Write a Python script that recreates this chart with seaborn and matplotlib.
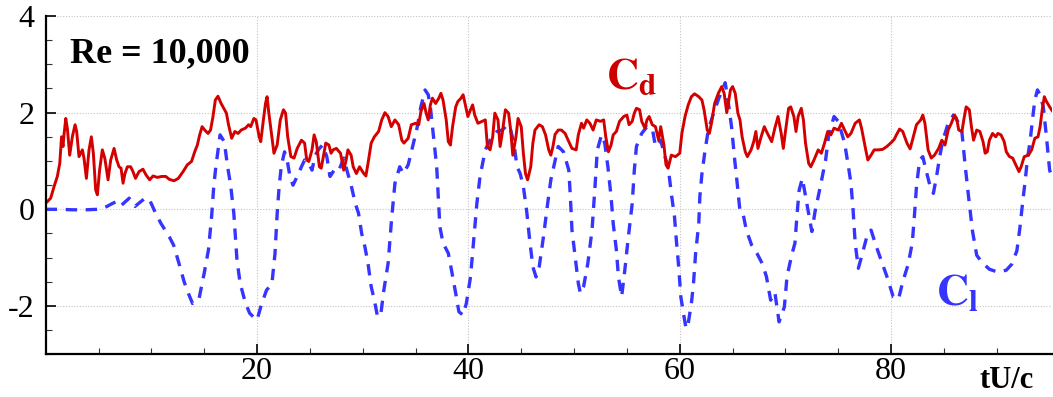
import numpy as np
import pandas as pd
import matplotlib
matplotlib.use('Agg')
import matplotlib.pyplot as plt
import seaborn as sns

# drag coefficient Cd (tU/c, value)
cd_t = [0.0, 0.16, 0.47, 0.79, 1.1, 1.33, 1.5, 1.64, 1.73, 1.9, 2.05, 2.27, 2.52, 2.78, 2.93, 3.15, 3.31,
        3.47, 3.63, 3.85, 4.1, 4.32, 4.51, 4.73, 4.89, 5.1, 5.36, 5.6, 5.9, 6.15, 6.47, 6.72, 6.94, 7.13,
        7.32, 7.5, 7.73, 8.04, 8.26, 8.5, 8.83, 9.2, 9.5, 9.84, 10.16, 10.57, 10.98, 11.36, 11.7, 12.14,
        12.55, 13.0, 13.4, 13.8, 14.1, 14.35, 14.57, 14.8, 15.05, 15.36, 15.6, 15.83, 16.05, 16.3, 16.6,
        17.1, 17.3, 17.6, 17.9, 18.2, 18.5, 18.9, 19.2, 19.4, 19.7, 19.9, 20.2, 20.35, 20.6, 20.8, 20.95,
        21.1, 21.4, 21.6, 21.9, 22.2, 22.5, 22.7, 22.9, 23.2, 23.5, 23.8, 24.2, 24.5, 24.7, 24.9, 25.2,
        25.4, 25.6, 25.9, 26.07, 26.3, 26.5, 26.8, 27.0, 27.2, 27.5, 27.9, 28.2, 28.4, 28.6, 28.9, 29.1,
        29.4, 29.7, 30.1, 30.3, 30.5, 30.8, 31.1, 31.5, 31.8, 32.1, 32.4, 32.7, 33.05, 33.4, 33.7, 33.9,
        34.3, 34.6, 35.0, 35.3, 35.5, 35.8, 36.0, 36.2, 36.4, 36.6, 36.9, 37.2, 37.4, 37.6, 37.9, 38.1,
        38.3, 38.5, 38.8, 39.0, 39.3, 39.5, 39.75, 39.95, 40.2, 40.4, 40.6, 40.9, 41.3, 41.6, 41.8, 42.05,
        42.3, 42.5, 42.8, 43.0, 43.2, 43.5, 43.8, 44.0, 44.2, 44.5, 44.7, 45.0, 45.2, 45.4, 45.6, 45.9,
        46.1, 46.3, 46.7, 47.0, 47.3, 47.6, 47.8, 48.0, 48.2, 48.5, 48.8, 49.15, 49.5, 49.8, 50.2, 50.4,
        50.7, 50.9, 51.2, 51.5, 51.8, 52.1, 52.5, 52.8, 53.0, 53.25, 53.5, 53.7, 54.0, 54.3, 54.7, 55.0,
        55.2, 55.5, 55.7, 55.9, 56.2, 56.4, 56.7, 56.9, 57.1, 57.4, 57.7, 58.0, 58.2, 58.5, 58.7, 58.9,
        59.2, 59.6, 60.0, 60.2, 60.5, 60.8, 61.1, 61.4, 61.8, 62.1, 62.3, 62.6, 62.8, 63.0, 63.3, 63.65,
        63.97, 64.2, 64.45, 64.8, 65.0, 65.25, 65.5, 65.7, 65.9, 66.2, 66.4, 66.75, 67.0, 67.2, 67.4,
        67.7, 68.0, 68.3, 68.7, 69.0, 69.3, 69.6, 69.8, 70.0, 70.3, 70.5, 70.8, 71.0, 71.2, 71.5, 71.7,
        71.9, 72.2, 72.4, 72.7, 73.1, 73.4, 73.7, 74.0, 74.3, 74.6, 75.0, 75.3, 75.6, 75.9, 76.2, 76.6,
        77.0, 77.2, 77.6, 77.8, 78.1, 78.4, 78.8, 79.2, 79.6, 80.0, 80.3, 80.5, 80.8, 81.1, 81.5, 81.8,
        82.1, 82.4, 82.8, 83.0, 83.2, 83.5, 83.8, 84.1, 84.5, 84.8, 85.1, 85.4, 85.7, 86.0, 86.2, 86.4,
        86.7, 86.9, 87.1, 87.4, 87.6, 87.8, 88.1, 88.4, 88.7, 88.9, 89.1, 89.3, 89.6, 89.9, 90.1, 90.4,
        90.7, 90.9, 91.2, 91.5, 91.8, 92.1, 92.3, 92.6, 93.0, 93.3, 93.6, 93.9, 94.1, 94.3, 94.5, 94.7,
        95.0, 95.3]
cd_val = [0.13, 0.16, 0.23, 0.47, 0.68, 0.95, 1.5, 1.3, 1.54, 1.88, 1.67, 1.12, 1.5, 1.75, 1.61, 1.09, 1.16,
          1.23, 1.05, 0.64, 1.23, 1.5, 1.16, 0.40, 0.30, 0.81, 1.23, 1.05, 0.61, 1.02, 1.26, 1.02, 0.88, 0.85,
          0.54, 0.74, 0.88, 0.88, 0.78, 0.64, 0.78, 0.83, 0.71, 0.61, 0.69, 0.66, 0.68, 0.68, 0.62, 0.59,
          0.64, 0.78, 0.92, 0.99, 1.19, 1.33, 1.54, 1.71, 1.64, 1.57, 1.64, 1.92, 2.26, 2.34, 2.19,
          1.99, 1.75, 1.47, 1.61, 1.57, 1.64, 1.68, 1.75, 1.71, 1.88, 1.85, 1.5, 1.40, 1.85, 2.19, 2.33,
          2.02, 1.5, 1.16, 1.33, 1.85, 2.06, 1.99, 1.5, 1.09, 1.06, 1.26, 1.43, 1.37, 1.02, 0.99, 1.23,
          1.54, 1.40, 0.88, 0.85, 1.12, 1.37, 1.33, 1.16, 1.23, 1.26, 1.16, 0.81, 0.99, 1.23, 1.12, 0.88,
          0.74, 0.88, 0.74, 0.69, 0.95, 1.37, 1.50, 1.61, 1.85, 2.0, 1.92, 1.71, 1.85, 1.75, 1.43, 1.37,
          1.47, 1.75, 1.78, 1.75, 2.02, 2.19, 1.99, 1.85, 2.16, 2.30, 2.19, 2.30, 2.40, 2.26, 1.85, 1.40,
          1.33, 1.71, 2.12, 2.23, 2.30, 2.37, 2.12, 1.92, 2.06, 2.16, 1.95, 1.78, 1.82, 1.85, 1.30, 1.23,
          1.50, 1.99, 1.85, 1.30, 1.57, 2.06, 1.99, 1.64, 1.12, 1.50, 1.88, 1.71, 1.16, 0.74, 0.61, 0.88,
          1.37, 1.64, 1.75, 1.71, 1.54, 1.23, 1.12, 1.30, 1.55, 1.64, 1.64, 1.57, 1.40, 1.26, 1.23, 1.54,
          1.78, 1.68, 1.85, 1.78, 1.64, 1.85, 1.82, 1.85, 1.50, 1.19, 1.33, 1.54, 1.61, 1.82, 1.92, 1.95,
          1.75, 1.82, 1.99, 2.09, 2.06, 1.82, 1.68, 1.85, 1.92, 1.75, 1.71, 1.43, 1.71, 1.33, 0.92, 0.85,
          1.12, 1.09, 1.16, 1.57, 1.92, 2.16, 2.33, 2.39, 2.33, 2.26, 2.06, 1.64, 1.57, 1.78, 2.19, 2.40,
          2.54, 2.40, 2.00, 2.47, 2.54, 2.40, 1.99, 1.85, 1.50, 1.19, 1.09, 1.23, 1.40, 1.61, 1.26,
          1.50, 1.71, 1.57, 1.40, 1.68, 1.92, 1.57, 1.26, 1.61, 2.09, 2.12, 1.92, 1.61, 1.92, 2.09, 1.85,
          1.37, 0.95, 0.88, 1.02, 1.23, 1.16, 1.37, 1.61, 1.54, 1.68, 1.64, 1.78, 1.64, 1.50, 1.57, 1.78,
          1.85, 1.68, 1.23, 1.02, 1.12, 1.23, 1.23, 1.24, 1.30, 1.38, 1.45, 1.54, 1.66, 1.61, 1.37, 1.25,
          1.50, 1.75, 1.85, 1.95, 1.78, 1.23, 1.06, 1.12, 1.26, 1.43, 1.33, 1.64, 1.78, 1.95, 1.88, 1.64,
          1.61, 1.88, 2.12, 2.06, 1.71, 1.43, 1.64, 1.61, 1.40, 1.16, 1.19, 1.43, 1.57, 1.50, 1.57, 1.54,
          1.40, 1.19, 1.09, 1.06, 0.92, 0.78, 0.88, 1.09, 1.12, 1.23, 1.47, 1.50, 1.71, 2.06, 2.33, 2.23,
          2.12, 2.02]

# lift coefficient Cl (tU/c, value)
cl_t = [0.0, 1.3, 2.5, 3.8, 4.9, 5.4, 5.8, 6.3, 6.7, 7.1, 7.9, 8.45, 9.4, 9.8, 10.4, 10.9, 11.7, 12.1,
        12.6, 13.1, 13.5, 13.9, 14.5, 15.0, 15.4, 15.7, 15.9, 16.1, 16.5, 16.9, 17.2, 17.5, 17.8, 18.1,
        18.4, 18.9, 19.3, 19.8, 20.0, 20.4, 20.9, 21.4, 21.7, 21.9, 22.1, 22.3, 22.6, 22.9, 23.1, 23.4,
        23.8, 24.2, 24.5, 24.9, 25.2, 25.5, 25.9, 26.2, 26.6, 26.9, 27.3, 27.7, 28.2, 28.5, 28.9, 29.3,
        29.6, 29.9, 30.2, 30.5, 30.8, 31.1, 31.4, 31.7, 32.0, 32.4, 32.75, 33.05, 33.5, 33.85, 34.3,
        34.8, 35.1, 35.5, 35.9, 36.2, 36.4, 36.7, 37.0, 37.15, 37.3, 37.6, 38.1, 38.4, 38.8, 39.1, 39.5,
        39.8, 40.2, 40.5, 40.8, 41.1, 41.6, 42.05, 42.7, 43.2, 43.7, 44.0, 44.3, 44.6, 44.9, 45.2, 45.5,
        45.8, 46.1, 46.4, 46.7, 47.1, 47.5, 47.8, 48.2, 48.5, 49.0, 49.5, 49.65, 49.8, 50.1, 50.4, 50.6,
        50.9, 51.3, 51.7, 52.0, 52.2, 52.6, 52.9, 53.2, 53.5, 53.7, 54.0, 54.2, 54.5, 54.8, 55.1, 55.5,
        55.7, 55.9, 56.4, 56.9, 57.4, 57.7, 58.2, 58.6, 58.9, 59.2, 59.5, 59.7, 59.9, 60.1, 60.4, 60.6,
        60.8, 61.1, 61.3, 61.5, 61.8, 61.9, 62.1, 62.4, 62.7, 63.2, 63.7, 64.1, 64.3, 64.6, 64.9, 65.2,
        65.5, 65.7, 66.0, 66.3, 66.8, 67.3, 67.8, 68.2, 68.6, 69.0, 69.4, 69.9, 70.15, 70.6, 70.9, 71.1,
        71.3, 71.6, 72.0, 72.5, 72.8, 73.3, 73.8, 74.1, 74.6, 75.0, 75.6, 75.95, 76.2, 76.4, 76.6, 76.9,
        77.2, 77.7, 78.1, 78.6, 79.1, 79.6, 80.2, 80.7, 81.1, 81.6, 82.0, 82.2, 82.4, 82.7, 83.0, 83.3,
        83.7, 84.0, 84.3, 84.6, 84.9, 85.4, 85.9, 86.3, 86.7, 87.0, 87.35, 87.7, 88.1, 88.6, 89.3, 90.1,
        90.9, 91.4, 91.9, 92.2, 92.45, 92.7, 92.9, 93.15, 93.4, 93.6, 93.85, 94.1, 94.4, 94.7, 95.0, 95.2]
cl_val = [0.0, 0.0, -0.01, -0.01, 0.0, 0.02, 0.06, 0.12, 0.16, 0.07, 0.23, 0.06, 0.23, 0.21, -0.08, -0.29,
          -0.57, -0.74, -1.11, -1.50, -1.74, -1.95, -1.86, -1.32, -0.84, -0.15, 0.47, 0.88, 1.54, 1.40,
          0.90, 0.5, -0.08, -1.05, -1.53, -1.94, -2.15, -2.26, -2.29, -1.98, -1.67, -1.55, -0.91, -0.1,
          0.5, 0.9, 1.19, 0.95, 0.70, 0.50, 0.68, 0.88, 1.02, 0.95, 0.81, 1.12, 1.26, 1.33, 1.09, 0.68,
          0.81, 0.78, 1.06, 0.81, 0.50, 0.12, -0.08, -0.50, -0.77, -1.12, -1.60, -1.88, -2.22, -2.19,
          -1.67, -1.12, -0.15, 0.54, 0.88, 0.74, 0.92, 1.37, 1.64, 2.12, 2.47, 2.37, 2.12, 1.50, 0.88,
          0.26, -0.36, -0.70, -0.91, -1.26, -1.74, -2.12, -2.19, -1.95, -1.40, -0.64, 0.12, 0.68, 1.23,
          1.43, 1.61, 1.64, 1.75, 1.64, 1.37, 0.88, 0.74, 0.47, -0.01, -0.64, -1.19, -1.40, -1.19, -0.57,
          0.12, 0.61, 1.0, 1.30, 1.19, 0.81, 0.26, -0.43, -0.98, -1.53, -1.74, -1.60, -1.12, -0.43, 0.54,
          1.23, 1.54, 1.37, 0.88, 0.26, -0.29, -0.84, -1.40, -1.81, -1.26, -0.64, 0.12, 0.81, 1.30, 1.57,
          1.71, 1.68, 1.30, 1.43, 1.09, 0.88, 0.33, -0.15, -0.70, -1.19, -1.81, -2.22, -2.47, -2.36,
          -1.95, -1.53, -0.91, -0.29, 0.26, 0.74, 1.23, 1.64, 1.99, 2.30, 2.50, 2.62, 2.20, 1.71, 1.02,
          0.40, -0.05, -0.1, -0.43, -0.74, -0.91, -1.12, -1.39, -1.88, -1.72, -2.33, -2.02, -1.39, -0.94,
          -0.70, -0.10, 0.40, 0.64, 0.15, -0.46, -0.05, 0.47, 1.02, 1.54, 1.92, 1.82, 1.37, 0.9, 0.54,
          -0.01, -0.70, -1.22, -0.98, -0.57, -0.43, -0.77, -1.08, -1.39, -1.81, -1.86, -1.50, -1.15,
          -0.70, -0.15, 0.47, 1.02, 1.09, 0.81, 0.47, 0.33, 0.68, 1.09, 1.43, 1.78, 1.95, 1.82, 1.60,
          0.92, 0.22, -0.45, -0.95, -1.10, -1.24, -1.30, -1.26, -1.14, -0.86, -0.36, 0.15, 0.61, 1.05,
          1.40, 1.90, 2.26, 2.47, 2.37, 2.12, 1.50, 0.81, 0.68]

x_ticks = [20, 40, 60, 80]
y_ticks = [-2, 0, 2, 4]

cd_df = pd.DataFrame({'tU/c': cd_t, 'C': cd_val})
cl_df = pd.DataFrame({'tU/c': cl_t, 'C': cl_val})

sns.set_style('ticks')
plt.rcParams['font.family'] = ['Liberation Serif', 'DejaVu Serif']
plt.rcParams['mathtext.fontset'] = 'stix'
plt.rcParams['axes.unicode_minus'] = False
plt.rcParams['text.color'] = 'black'
plt.rcParams['xtick.color'] = 'black'
plt.rcParams['ytick.color'] = 'black'

fig = plt.figure(figsize=(10.53, 3.97), dpi=100)
ax = fig.add_axes([0.0434, 0.1076, 0.9554, 0.8521])

sns.lineplot(data=cl_df, x='tU/c', y='C', ax=ax, color='#3535ff', lw=2.4,
             linestyle=(0, (3.4, 2.6)), estimator=None, sort=False)
sns.lineplot(data=cd_df, x='tU/c', y='C', ax=ax, color='#d40000', lw=2.1,
             estimator=None, sort=False)

ax.set_xlim(0, 95.2)
ax.set_ylim(-3, 4)
ax.set_xticks(x_ticks)
ax.set_yticks(y_ticks)
ax.set_xticks(np.arange(5, 95, 5), minor=True)
ax.set_yticks(np.arange(-3, 4.01, 0.5), minor=True)
ax.grid(True, which='major', color='#c4c4c4', linestyle=(0, (1, 1.5)), lw=0.8)
ax.set_axisbelow(True)
ax.tick_params(which='major', direction='in', length=7, width=1.2, labelsize=23, pad=2,
               labelcolor='black', color='black')
ax.tick_params(which='minor', direction='in', length=4, width=0.8, color='#333333')
ax.tick_params(axis='y', which='major', pad=8)
for s in ['top', 'right']:
    ax.spines[s].set_visible(False)
for s in ['left', 'bottom']:
    ax.spines[s].set_linewidth(1.6)
    ax.spines[s].set_color('black')
ax.set_xlabel('')
ax.set_ylabel('')

fig.text(70 / 1053, 1 - 62 / 397, 'Re = 10,000', fontsize=26, fontweight='bold', color='black',
         ha='left', va='baseline')
fig.text(606 / 1053, 1 - 89 / 397, r'$\mathbf{C_d}$', fontsize=32, color='#cc0000', ha='left', va='baseline')
fig.text(936 / 1053, 1 - 305 / 397, r'$\mathbf{C_l}$', fontsize=32, color='#3535ff', ha='left', va='baseline')
fig.text(1034 / 1053, 1 - 388 / 397, 'tU/c', fontsize=22, fontweight='bold', color='black',
         ha='right', va='baseline')

fig.savefig('out.png', dpi=100)
